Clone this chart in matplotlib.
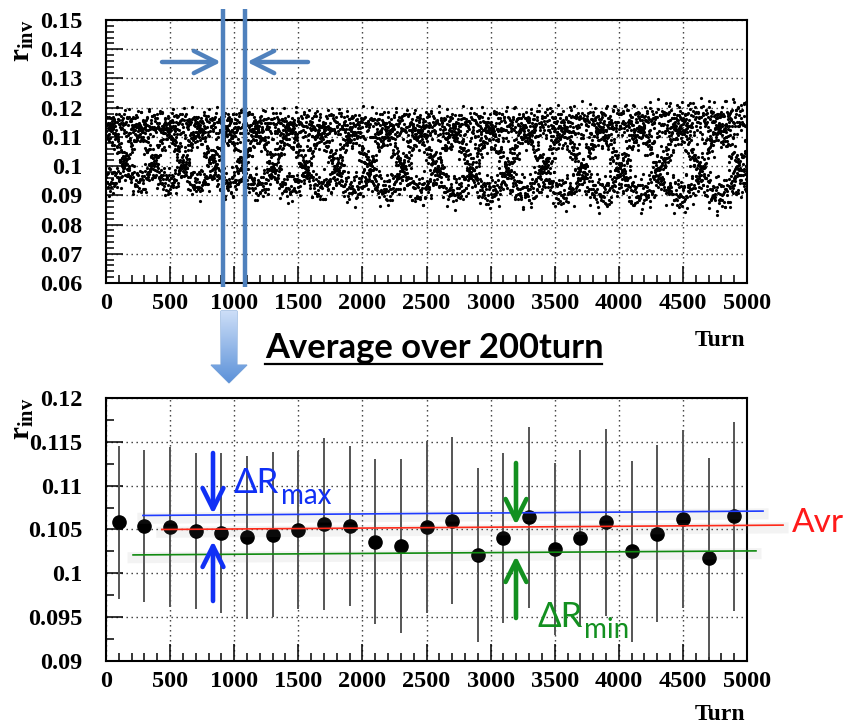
import numpy as np
import matplotlib
matplotlib.use("Agg")
import matplotlib.pyplot as plt
import matplotlib.patheffects as pe
from matplotlib.patches import Polygon
from matplotlib.ticker import MultipleLocator, FuncFormatter

# ---------------- data ----------------
# bottom panel: 200-turn averages
avg_turns = [100, 300, 500, 700, 900, 1100, 1300, 1500, 1700, 1900, 2100, 2300, 2500,
             2700, 2900, 3100, 3300, 3500, 3700, 3900, 4100, 4300, 4500, 4700, 4900]
avg_rinv = [0.1058, 0.1054, 0.1053, 0.1048, 0.1046, 0.1041, 0.1044, 0.1049, 0.1056,
            0.1054, 0.1036, 0.1031, 0.1053, 0.1060, 0.1021, 0.1040, 0.1064, 0.1028,
            0.1040, 0.1058, 0.1025, 0.1045, 0.1062, 0.1018, 0.1065]
avg_err = [0.0087, 0.0087, 0.0091, 0.0089, 0.0091, 0.0093, 0.0094, 0.0090, 0.0098,
           0.0091, 0.0094, 0.0099, 0.0098, 0.0095, 0.0099, 0.0097, 0.0103, 0.0098,
           0.0101, 0.0107, 0.0103, 0.0101, 0.0101, 0.0113, 0.0108]

# top panel: turn-by-turn cloud, described by its envelope and beat period
env_turns = [0, 500, 1000, 1500, 2000, 2500, 3000, 3500, 4000, 4500, 5000]
env_upper = [0.1205, 0.1205, 0.1205, 0.1205, 0.1205, 0.1207, 0.1210, 0.1218, 0.1226, 0.1236, 0.1243]
env_lower = [0.0892, 0.0886, 0.0876, 0.0866, 0.0858, 0.0851, 0.0846, 0.0841, 0.0835, 0.0829, 0.0824]
beat_turns = [0, 1000, 2000, 3000, 4000, 5000]
beat_period = [225, 235, 255, 280, 305, 315]
n_turns = 5000
first_upper_cross = 1186

# guide lines drawn on the lower panel
guide_blue_x, guide_blue_y = [288, 5125], [0.1066, 0.1071]
guide_red_x, guide_red_y = [435, 5281], [0.1050, 0.1055]
guide_green_x, guide_green_y = [211, 5070], [0.1021, 0.10256]

# ---------------- build top-panel cloud ----------------
turn = np.arange(n_turns)
P = np.interp(turn, beat_turns, beat_period)
theta = 2 * np.pi * np.cumsum(1.0 / (3.0 * P))
phase0 = np.pi - theta[first_upper_cross]
xb = np.cos(2 * np.pi * turn / 3.0 + theta + phase0)
shape = 0.25 + 1.1 * xb - 0.25 * xb**2 - 0.25 * xb**3
fuzz = (np.cos(2 * np.pi * 0.6180339887 * turn)
        + np.cos(2 * np.pi * 0.4142135624 * turn + 1.3)
        + np.cos(2 * np.pi * 0.2718281828 * turn + 0.7)) / 3.0
tot = 0.66 * shape + 0.34 * fuzz
u = (tot - tot.min()) / (tot.max() - tot.min())
lo = np.interp(turn, env_turns, env_lower)
hi = np.interp(turn, env_turns, env_upper)
r_turn = lo + u * (hi - lo)

# ---------------- style ----------------
plt.rcParams['font.family'] = ['Liberation Serif', 'DejaVu Serif']
plt.rcParams['mathtext.fontset'] = 'custom'
plt.rcParams['mathtext.rm'] = 'Liberation Serif'
plt.rcParams['mathtext.bf'] = 'Liberation Serif:bold'

W, H = 843, 726
fig = plt.figure(figsize=(W / 100, H / 100), dpi=100)
fig.patch.set_facecolor('white')


def rect(l, t, r, b):
    return [l / W, 1 - b / H, (r - l) / W, (b - t) / H]


ax1 = fig.add_axes(rect(106, 20, 747, 283))
ax2 = fig.add_axes(rect(106, 398, 747, 661))

fmt = FuncFormatter(lambda v, p: ('%g' % round(v, 4)))
for ax in (ax1, ax2):
    ax.set_xlim(0, 5000)
    ax.xaxis.set_major_locator(MultipleLocator(500))
    ax.xaxis.set_minor_locator(MultipleLocator(100))
    ax.yaxis.set_major_formatter(fmt)
    ax.tick_params(which='both', direction='in', top=False, right=False, width=1.1)
    ax.tick_params(which='major', length=12, labelsize=17.5)
    ax.tick_params(which='minor', length=6)
    ax.tick_params(axis='y', pad=17)
    ax.tick_params(axis='x', pad=7.5)
    ax.grid(True, which='major', linestyle=(0, (1, 2.6)), linewidth=1.0, color='#333333')
    ax.set_axisbelow(True)
    for sp in ax.spines.values():
        sp.set_linewidth(1.5)

ax1.set_ylim(0.06, 0.15)
ax1.yaxis.set_major_locator(MultipleLocator(0.01))
ax1.yaxis.set_minor_locator(MultipleLocator(0.002))
ax2.set_ylim(0.09, 0.12)
ax2.yaxis.set_major_locator(MultipleLocator(0.005))
ax2.yaxis.set_minor_locator(MultipleLocator(0.0025))

for ax in (ax1, ax2):
    for lab in ax.get_xticklabels() + ax.get_yticklabels():
        lab.set_fontweight('bold')

# data
ax1.plot(turn, r_turn, 'o', ms=2.3, mew=0, color='black', zorder=3)
ax2.errorbar(avg_turns, avg_rinv, yerr=avg_err, fmt='o', ms=9.5, color='black',
             ecolor='#555555', elinewidth=1.4, capsize=0, zorder=3)

# guide lines with soft shadow
shadow = [pe.Stroke(linewidth=8, foreground='#808080', alpha=0.09, offset=(0, -2)), pe.Normal()]
ax2.plot(guide_blue_x, guide_blue_y, color='#1f3cff', lw=1.2, clip_on=False, zorder=4, path_effects=shadow)
ax2.plot(guide_red_x, guide_red_y, color='#ff2a1a', lw=1.2, clip_on=False, zorder=4, path_effects=shadow)
ax2.plot(guide_green_x, guide_green_y, color='#108a10', lw=1.2, clip_on=False, zorder=4, path_effects=shadow)

# axis titles
for yb in (20, 398):
    fig.text(23 / W, 1 - yb / H, r'$\mathbf{r_{inv}}$', rotation=90, ha='center', va='top', fontsize=21)
fig.text(745 / W, 1 - 346 / H, 'Turn', ha='right', va='baseline', fontsize=17, fontweight='bold')
fig.text(745 / W, 1 - 720 / H, 'Turn', ha='right', va='baseline', fontsize=17, fontweight='bold')

# ---------------- overlay annotations (pixel coordinates) ----------------
ov = fig.add_axes([0, 0, 1, 1], zorder=10)
ov.set_xlim(0, W)
ov.set_ylim(H, 0)
ov.axis('off')
ov.patch.set_alpha(0)

steel = '#4F81BD'
ov.plot([223, 223], [9, 287], color=steel, lw=3.2, solid_capstyle='butt')
ov.plot([245, 245], [9, 287], color=steel, lw=3.2, solid_capstyle='butt')
ov.annotate('', xy=(221, 62), xytext=(162, 62),
            arrowprops=dict(arrowstyle='->,head_length=1.6,head_width=0.8', lw=3.2, color=steel,
                            mutation_scale=10, shrinkA=0, shrinkB=0))
ov.annotate('', xy=(247, 62), xytext=(308, 62),
            arrowprops=dict(arrowstyle='->,head_length=1.6,head_width=0.8', lw=3.2, color=steel,
                            mutation_scale=10, shrinkA=0, shrinkB=0))

# gradient block arrow
verts = [(221, 311), (237, 311), (237, 365), (247, 365), (229, 383), (211, 365), (221, 365)]
poly = Polygon(verts, closed=True, facecolor='none', edgecolor='#79a3d6', lw=0.8)
ov.add_patch(poly)
grad = np.linspace(0, 1, 64)[:, None]
c_top = np.array([0.80, 0.87, 0.97])
c_bot = np.array([0.36, 0.57, 0.85])
img = c_top[None, None, :] * (1 - grad[:, :, None]) + c_bot[None, None, :] * grad[:, :, None]
im = ov.imshow(img, extent=(211, 247, 383, 311), origin='upper', aspect='auto', zorder=1)
im.set_clip_path(poly)
ov.set_xlim(0, W)
ov.set_ylim(H, 0)

# title text
ov.text(265, 358, 'Average over 200turn', family='Lato', fontweight='bold', fontsize=24.8,
        ha='left', va='baseline', color='black')
ov.plot([265, 602], [364, 364], color='black', lw=1.6)

# delta R max (blue)
blue = '#1030f5'
arr = dict(arrowstyle='->,head_length=1.5,head_width=0.75', lw=3.3, mutation_scale=10, shrinkA=0, shrinkB=0)
ov.annotate('', xy=(213, 514), xytext=(213, 453), arrowprops=dict(arr, color=blue))
ov.annotate('', xy=(213, 541), xytext=(213, 601), arrowprops=dict(arr, color=blue))
ov.text(233, 493, 'ΔR', family='Lato', fontsize=25, color=blue, ha='left', va='baseline')
ov.text(281, 504, 'max', family='Lato', fontsize=20, color=blue, ha='left', va='baseline')

# delta R min (green)
green = '#139020'
ov.annotate('', xy=(516, 525), xytext=(516, 463), arrowprops=dict(arr, color=green))
ov.annotate('', xy=(516, 556), xytext=(516, 618), arrowprops=dict(arr, color=green))
ov.text(537, 627, 'ΔR', family='Lato', fontsize=25, color=green, ha='left', va='baseline')
ov.text(584, 638, 'min', family='Lato', fontsize=20, color=green, ha='left', va='baseline')

# Avr (red)
ov.text(792, 532, 'Avr', family='Lato', fontsize=24, color='#ff1a1a', ha='left', va='baseline')

fig.savefig('out.png', dpi=100, facecolor='white')
